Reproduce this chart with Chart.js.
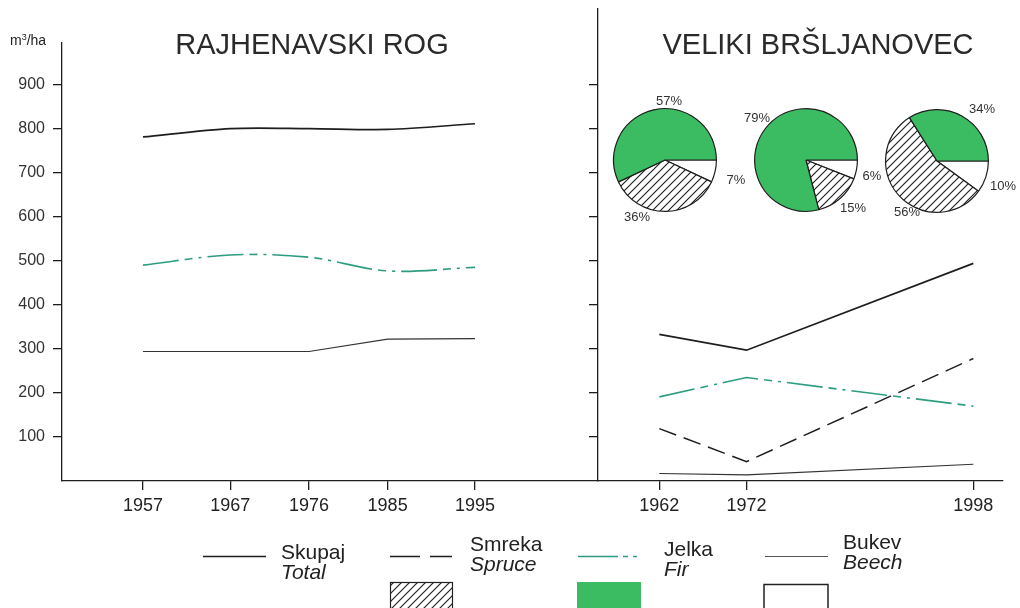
<!DOCTYPE html>
<html>
<head>
<meta charset="utf-8">
<script src="https://cdn.jsdelivr.net/npm/chart.js@4.4.1/dist/chart.umd.min.js"></script>
<style>
  html, body { margin: 0; padding: 0; background: #fff; overflow: hidden; }
  #stage { position: relative; width: 1020px; height: 608px; overflow: hidden;
           font-family: 'Liberation Sans', Arial, sans-serif; color: #222; }
  #stage canvas { position: absolute; }
  .title { position: absolute; font-size: 29px; line-height: 29px; white-space: nowrap;
           transform: translateX(-50%); color: #2a2a2a; }
  .unit { position: absolute; left: 10px; top: 33px; font-size: 14px; line-height: 14px; color: #222; }
  .unit sup { font-size: 9px; vertical-align: 5px; line-height: 0; }
  .leg { position: absolute; font-size: 21px; line-height: 20px; white-space: nowrap; color: #222; }
  .leg i { display: block; }
  #legendSvg { position: absolute; left: 0; top: 0; }
</style>
</head>
<body>
<div id="stage">
  <canvas id="leftChart" width="1020" height="520" style="left:0;top:0"></canvas>
  <canvas id="rightChart" width="1020" height="520" style="left:0;top:0"></canvas>
  <canvas id="pie0" width="190" height="150"></canvas>
  <canvas id="pie1" width="190" height="150"></canvas>
  <canvas id="pie2" width="190" height="150"></canvas>

  <div class="unit">m<sup>3</sup>/ha</div>
  <div class="title" style="left:312px;top:29.5px">RAJHENAVSKI ROG</div>
  <div class="title" style="left:818px;top:30px">VELIKI BRŠLJANOVEC</div>

  <svg id="legendSvg" width="1020" height="608">
    <defs>
      <pattern id="hatchPat" width="8" height="8" patternUnits="userSpaceOnUse">
        <rect width="8" height="8" fill="#fff"/>
        <path d="M-2,10 L10,-2 M-2,2 L2,-2 M6,10 L10,6" stroke="#222" stroke-width="1.2"/>
      </pattern>
    </defs>
    <line x1="203" y1="556.5" x2="266" y2="556.5" stroke="#1e1e1e" stroke-width="1.7"/>
    <line x1="390" y1="556.5" x2="452" y2="556.5" stroke="#1e1e1e" stroke-width="1.6" stroke-dasharray="30 10"/>
    <line x1="578" y1="556.5" x2="641" y2="556.5" stroke="#2e9c80" stroke-width="1.6" stroke-dasharray="40 5 5 5 4 10"/>
    <line x1="765" y1="556.5" x2="828" y2="556.5" stroke="#555" stroke-width="1.2"/>
    <rect x="390.5" y="582.5" width="62" height="30" fill="url(#hatchPat)" stroke="#222" stroke-width="1.2"/>
    <rect x="577" y="582" width="64" height="30" fill="#3cbc62"/>
    <rect x="764" y="584.5" width="64" height="30" fill="#fff" stroke="#222" stroke-width="1.5"/>
  </svg>

  <div class="leg" style="left:281px;top:541.5px">Skupaj<i>Total</i></div>
  <div class="leg" style="left:470px;top:534px">Smreka<i>Spruce</i></div>
  <div class="leg" style="left:664px;top:538.5px">Jelka<i>Fir</i></div>
  <div class="leg" style="left:843px;top:531.5px">Bukev<i>Beech</i></div>
</div>

<script>
// Growing stock (m3/ha) — Rajhenavski Rog
const leftYears  = [1957, 1967, 1976, 1985, 1995];
const leftTotal  = [781, 800, 800, 798, 811];
const leftFir    = [490, 513, 508, 477, 485];
const leftBeech  = [294, 294, 294, 322, 323];

// Growing stock (m3/ha) — Veliki Bršljanovec
const rightYears  = [1962, 1972, 1998];
const rightTotal  = [333, 297, 494];
const rightSpruce = [119, 44, 278];
const rightFir    = [191, 235, 170];
const rightBeech  = [17, 14, 38];

// Species share (%) of growing stock — Veliki Bršljanovec
const pieYears  = [1962, 1972, 1998];
const pieBeech  = [7, 6, 10];
const pieSpruce = [36, 15, 56];
const pieFir    = [57, 79, 34];

// Value-axis tick labels
const yTickValues = [100, 200, 300, 400, 500, 600, 700, 800, 900];

// ---- styling ----
const INK = '#1e1e1e';
const FIR_LINE = '#2e9c80';
const FIR_FILL = '#3cbc62';
const FONT = "'Liberation Sans', Arial, sans-serif";

const pts = (xs, ys) => xs.map((x, i) => ({ x, y: ys[i] }));

const lineStyles = {
  total:  { borderColor: INK, borderWidth: 1.7 },
  spruce: { borderColor: INK, borderWidth: 1.5, borderDash: [18, 8] },
  fir:    { borderColor: FIR_LINE, borderWidth: 1.6, borderDash: [36, 6, 8, 6, 3, 6] },
  beech:  { borderColor: '#333', borderWidth: 1.2 }
};

function yAxis(max, axisWidth, showLabels) {
  return {
    type: 'linear', min: 0, max,
    afterBuildTicks: s => { s.ticks = yTickValues.map(v => ({ value: v })); },
    afterFit: s => { s.width = axisWidth; },
    grid: { drawOnChartArea: false, drawTicks: true, tickLength: 9, color: INK, lineWidth: 1.3 },
    border: { display: true, color: INK, width: 1.3 },
    ticks: { display: showLabels, padding: 8, color: '#333', font: { size: 16, family: FONT } }
  };
}

function xAxis(min, max, years) {
  return {
    type: 'linear', min, max,
    afterBuildTicks: s => { s.ticks = years.map(v => ({ value: v })); },
    afterFit: s => { s.height = 39; },
    grid: { drawOnChartArea: false, drawTicks: true, tickLength: 9, color: INK, lineWidth: 1.3 },
    border: { display: true, color: INK, width: 1.3 },
    ticks: { padding: 5, color: '#222', maxRotation: 0, autoSkip: false,
             font: { size: 18, family: FONT }, callback: v => String(v) }
  };
}

const commonLine = {
  responsive: false,
  animation: false,
  events: [],
  plugins: { legend: { display: false }, tooltip: { enabled: false } },
  elements: { point: { radius: 0 } }
};

// Left panel
new Chart(document.getElementById('leftChart'), {
  type: 'line',
  data: {
    datasets: [
      { data: pts(leftYears, leftTotal), ...lineStyles.total, tension: 0.3 },
      { data: pts(leftYears, leftFir), ...lineStyles.fir, tension: 0.35 },
      { data: pts(leftYears, leftBeech), ...lineStyles.beech, tension: 0 }
    ]
  },
  options: {
    ...commonLine,
    layout: { padding: { left: 0, right: 422, top: 43, bottom: 0 } },
    scales: { x: xAxis(1947.73, 2009.08, leftYears), y: yAxis(994.3, 62, true) }
  }
});

// Right panel
new Chart(document.getElementById('rightChart'), {
  type: 'line',
  data: {
    datasets: [
      { data: pts(rightYears, rightTotal), ...lineStyles.total },
      { data: pts(rightYears, rightSpruce), ...lineStyles.spruce },
      { data: pts(rightYears, rightFir), ...lineStyles.fir },
      { data: pts(rightYears, rightBeech), ...lineStyles.beech }
    ]
  },
  options: {
    ...commonLine,
    layout: { padding: { left: 0, right: 17, top: 9, bottom: 0 } },
    scales: { x: xAxis(1954.97, 2001.4, rightYears), y: yAxis(1071.5, 598, false) }
  }
});

// Hatch fill for spruce slices
function hatchPattern(ctx) {
  const c = document.createElement('canvas');
  c.width = c.height = 8;
  const g = c.getContext('2d');
  g.fillStyle = '#fff';
  g.fillRect(0, 0, 8, 8);
  g.strokeStyle = '#222';
  g.lineWidth = 1.2;
  g.beginPath();
  g.moveTo(-2, 10); g.lineTo(10, -2);
  g.moveTo(-2, 2);  g.lineTo(2, -2);
  g.moveTo(6, 10);  g.lineTo(10, 6);
  g.stroke();
  return ctx.createPattern(c, 'repeat');
}

// Pie placement (centre on page) and percentage label offsets from the centre
const pieCentres = [[665, 160], [806, 160], [937, 161]];
const pieLabelOffsets = [
  { beech: [71, 20], spruce: [-28, 57], fir: [4, -59] },
  { beech: [66, 16], spruce: [47, 48], fir: [-49, -42] },
  { beech: [66, 25], spruce: [-30, 51], fir: [45, -52] }
];

const pctLabels = {
  id: 'pctLabels',
  afterDraw(chart, args, opts) {
    const { ctx } = chart;
    const arc = chart.getDatasetMeta(0).data[0];
    const cx = arc.x, cy = arc.y;
    ctx.save();
    ctx.font = '13px ' + FONT;
    ctx.fillStyle = '#333';
    ctx.textAlign = 'center';
    ctx.textBaseline = 'middle';
    const vals = chart.data.datasets[0].data;
    opts.keys.forEach((k, i) => {
      const [dx, dy] = opts.offsets[k];
      ctx.fillText(vals[i] + '%', cx + dx, cy + dy);
    });
    ctx.restore();
  }
};

pieYears.forEach((yr, i) => {
  const cv = document.getElementById('pie' + i);
  cv.style.left = (pieCentres[i][0] - 95) + 'px';
  cv.style.top = (pieCentres[i][1] - 75) + 'px';
  const ctx = cv.getContext('2d');
  new Chart(cv, {
    type: 'pie',
    data: {
      labels: ['Bukev', 'Smreka', 'Jelka'],
      datasets: [{
        data: [pieBeech[i], pieSpruce[i], pieFir[i]],
        backgroundColor: ['#ffffff', hatchPattern(ctx), FIR_FILL],
        borderColor: INK,
        borderWidth: 1.2
      }]
    },
    plugins: [pctLabels],
    options: {
      responsive: false,
      animation: false,
      events: [],
      rotation: 90,
      layout: { padding: { left: 43, right: 43, top: 23, bottom: 23 } },
      plugins: {
        legend: { display: false },
        tooltip: { enabled: false },
        pctLabels: { keys: ['beech', 'spruce', 'fir'], offsets: pieLabelOffsets[i] }
      }
    }
  });
});
</script>
</body>
</html>
